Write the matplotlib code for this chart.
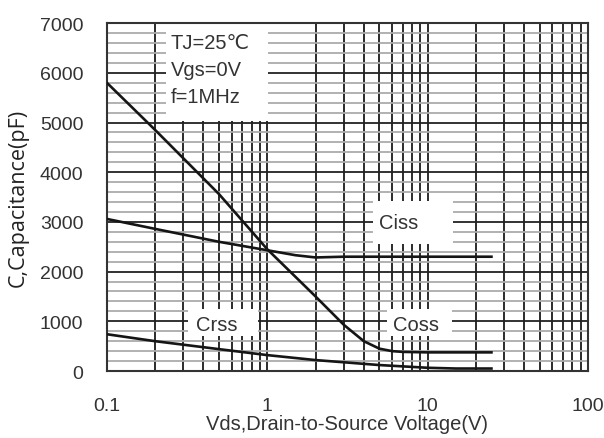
import matplotlib
matplotlib.use("Agg")
import matplotlib.pyplot as plt
from matplotlib.ticker import MultipleLocator, LogLocator, NullFormatter
from matplotlib.patches import Rectangle

# Data
ciss_v = [0.1, 0.2, 0.5, 1.0, 1.5, 2.0, 3.0, 5.0, 10.0, 25.0]
ciss_c = [3060, 2860, 2600, 2430, 2330, 2285, 2300, 2300, 2300, 2300]

coss_v = [0.1, 0.2, 0.5, 1.0, 2.0, 3.0, 4.0, 5.0, 6.0, 7.0, 10.0, 25.0]
coss_c = [5800, 4850, 3560, 2450, 1500, 930, 600, 450, 400, 385, 375, 375]

crss_v = [0.1, 0.2, 0.5, 1.0, 2.0, 5.0, 10.0, 15.0, 25.0]
crss_c = [740, 600, 440, 320, 220, 120, 65, 50, 50]

xticks = [0.1, 1, 10, 100]
xticklabels = ["0.1", "1", "10", "100"]
yticks = [0, 1000, 2000, 3000, 4000, 5000, 6000, 7000]

fig = plt.figure(figsize=(6.04, 4.39), dpi=100)
ax = fig.add_axes([0.177, 0.1526, 0.7965, 0.7924])
ax.set_xscale("log")
ax.set_xlim(0.1, 100)
ax.set_ylim(0, 7000)

ax.set_xticks(xticks)
ax.set_xticklabels(xticklabels)
ax.xaxis.set_minor_locator(LogLocator(base=10, subs=range(2, 10)))
ax.xaxis.set_minor_formatter(NullFormatter())
ax.set_yticks(yticks)
ax.yaxis.set_minor_locator(MultipleLocator(200))

ax.set_axisbelow(True)
ax.grid(True, which="major", axis="y", color="#222222", lw=1.3)
ax.grid(True, which="minor", axis="y", color="#ababab", lw=1.3)
ax.grid(True, which="both", axis="x", color="#1a1a1a", lw=1.3)

for s in ax.spines.values():
    s.set_color("#333333")
    s.set_linewidth(1.5)

ax.tick_params(which="both", length=0)
ax.tick_params(axis="y", pad=17, labelsize=14)
ax.tick_params(axis="x", pad=19, labelsize=14)
for lab in ax.get_xticklabels() + ax.get_yticklabels():
    lab.set_family("Liberation Sans")
    lab.set_color("#333333")

# white label boxes over the grid
boxes = [
    (0.233, 5030, 1.01, 7000),
    (4.56, 2555, 14.4, 3420),
    (0.32, 700, 0.875, 1250),
    (5.58, 700, 14.2, 1250),
]
for x0, y0, x1, y1 in boxes:
    ax.add_patch(Rectangle((x0, y0), x1 - x0, y1 - y0, facecolor="white",
                           edgecolor="none", zorder=2))

lw = 1.9
col = "#151515"
ax.plot(ciss_v, ciss_c, color=col, lw=lw, zorder=3)
ax.plot(coss_v, coss_c, color=col, lw=lw, zorder=3)
ax.plot(crss_v, crss_c, color=col, lw=lw, zorder=3)

tfont = dict(family=["Liberation Sans", "DejaVu Sans"], fontsize=14.5, color="#333333", zorder=4)
ax.text(0.25, 6620, "TJ=25\u2103", va="center", ha="left", **tfont)
ax.text(0.25, 6060, "Vgs=0V", va="center", ha="left", **tfont)
ax.text(0.25, 5530, "f=1MHz", va="center", ha="left", **tfont)
ax.text(4.95, 2990, "Ciss", va="center", ha="left", **tfont)
ax.text(0.36, 930, "Crss", va="center", ha="left", **tfont)
ax.text(6.1, 930, "Coss", va="center", ha="left", **tfont)

ax.set_xlabel("Vds,Drain-to-Source Voltage(V)", family="Liberation Sans",
              fontsize=14.5, color="#333333", labelpad=0)
ax.set_ylabel("C,Capacitance(pF)", family="Open Sans", fontsize=15.5,
              color="#222222", labelpad=8)

fig.savefig("out.png", dpi=100)
